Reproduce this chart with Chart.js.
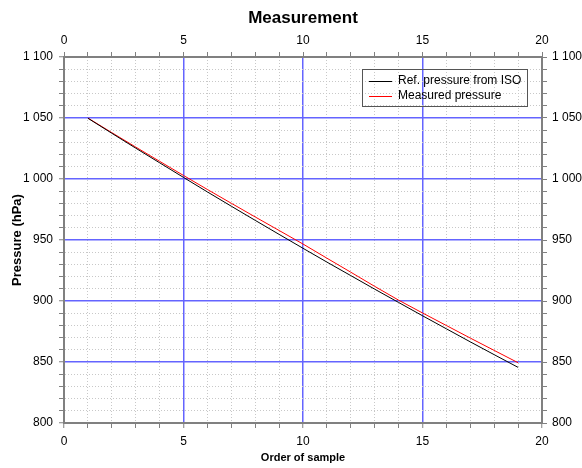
<!DOCTYPE html>
<html lang="en">
<head>
    <meta charset="UTF-8">
    <title>Measurement</title>
    <script src="https://cdn.jsdelivr.net/npm/chart.js"></script>
    <style>
        body { margin: 0; background: #fff; }
    </style>
</head>
<body>
    <canvas id="chart" width="582" height="468"></canvas>

    <script>
        // data
        const samples = [1, 2, 3, 4, 5, 6, 7, 8, 9, 10, 11, 12, 13, 14, 15, 16, 17, 18, 19];
        const refPressure = [1049.8, 1037.5, 1025.3, 1013.3, 1001.3, 989.4, 977.7, 966.1, 954.6, 943.2,
                             931.9, 920.8, 909.7, 898.8, 887.9, 877.2, 866.5, 856.0, 845.6];
        const measuredPressure = [1050.0, 1038.0, 1026.2, 1014.5, 1002.9, 991.4, 980.1, 968.9, 957.8, 946.7,
                                  935.1, 923.6, 912.0, 900.7, 890.2, 879.9, 869.6, 859.5, 849.4];
        const seriesLabels = ['Ref. pressure from ISO', 'Measured pressure'];
        const xMajor = [0, 5, 10, 15, 20];
        const xTickLabels = ['0', '5', '10', '15', '20'];
        const yMajor = [800, 850, 900, 950, 1000, 1050, 1100];
        const yTickLabels = ['800', '850', '900', '950', '1 000', '1 050', '1 100'];

        Chart.defaults.font.family = '"Liberation Sans", Arial, sans-serif';
        Chart.defaults.font.size = 12;
        Chart.defaults.color = '#000';

        const axisGray = '#808080';
        const majorBlue = 'rgb(100,100,255)';
        const minorGray = '#c8c8c8';

        function points(values) {
            return samples.map((s, i) => ({ x: s, y: values[i] }));
        }

        // grid helpers: blue on major ticks, dotted gray on minor ones
        function gridColor(major, min, max) {
            return ctx => {
                const v = ctx.tick ? ctx.tick.value : null;
                if (v === min || v === max) return 'rgba(0,0,0,0)';
                return major.includes(v) ? majorBlue : minorGray;
            };
        }
        function gridWidth(major) {
            return ctx => (ctx.tick && major.includes(ctx.tick.value)) ? 1.5 : 1;
        }
        function gridDash(major) {
            return ctx => (ctx.tick && !major.includes(ctx.tick.value)) ? [1, 2] : [];
        }
        function labelFor(major, labels) {
            return value => {
                const i = major.indexOf(value);
                return i >= 0 ? labels[i] : '';
            };
        }

        // simple boxed legend inside the plot, top right
        const boxLegend = {
            id: 'boxLegend',
            afterDraw(chart) {
                const ctx = chart.ctx;
                ctx.save();
                ctx.strokeStyle = '#555';
                ctx.lineWidth = 1;
                ctx.strokeRect(362.5, 69.5, 165, 37);
                ctx.font = '12px "Liberation Sans", Arial, sans-serif';
                ctx.textBaseline = 'middle';
                chart.data.datasets.forEach((ds, i) => {
                    const y = 81 + i * 15;
                    ctx.strokeStyle = ds.borderColor;
                    ctx.beginPath();
                    ctx.moveTo(369, y + 0.5);
                    ctx.lineTo(392, y + 0.5);
                    ctx.stroke();
                    ctx.fillStyle = '#000';
                    ctx.fillText(ds.label, 398, y);
                });
                ctx.restore();
            }
        };

        new Chart(document.getElementById('chart'), {
            type: 'line',
            data: {
                datasets: [{
                    label: seriesLabels[0],
                    data: points(refPressure),
                    borderColor: '#000000',
                    borderWidth: 1,
                    pointRadius: 0,
                    tension: 0
                }, {
                    label: seriesLabels[1],
                    data: points(measuredPressure),
                    borderColor: '#ff0000',
                    borderWidth: 1,
                    pointRadius: 0,
                    tension: 0
                }]
            },
            options: {
                responsive: false,
                animation: false,
                layout: { padding: 0 },
                plugins: {
                    legend: { display: false },
                    tooltip: { enabled: false },
                    title: {
                        display: true,
                        fullSize: false, // center over the plot area
                        text: 'Measurement',
                        color: '#000',
                        font: { size: 17, weight: 'bold' },
                        padding: { top: 8, bottom: 0.6 }
                    }
                },
                scales: {
                    x: {
                        type: 'linear',
                        position: 'bottom',
                        min: 0, max: 20,
                        ticks: { stepSize: 1, autoSkip: false, maxRotation: 0, padding: 6,
                                 callback: labelFor(xMajor, xTickLabels) },
                        grid: { color: gridColor(xMajor, 0, 20), lineWidth: gridWidth(xMajor),
                                tickColor: axisGray, tickWidth: 1, tickLength: 5 },
                        border: { color: axisGray, width: 2, dash: gridDash(xMajor) },
                        title: { display: true, text: 'Order of sample', font: { size: 11, weight: 'bold' },
                                 padding: { top: 0, bottom: 3 } },
                        afterFit: s => { s.height = 45; }
                    },
                    x2: {
                        type: 'linear',
                        position: 'top',
                        min: 0, max: 20,
                        ticks: { stepSize: 1, autoSkip: false, maxRotation: 0, padding: 4,
                                 callback: labelFor(xMajor, xTickLabels) },
                        grid: { drawOnChartArea: false, tickColor: axisGray, tickLength: 5 },
                        border: { color: axisGray, width: 2 },
                        afterFit: s => { s.height = 28; }
                    },
                    y: {
                        type: 'linear',
                        position: 'left',
                        min: 800, max: 1100,
                        ticks: { stepSize: 10, autoSkip: false, padding: 6,
                                 callback: labelFor(yMajor, yTickLabels) },
                        grid: { color: gridColor(yMajor, 800, 1100), lineWidth: gridWidth(yMajor),
                                tickColor: axisGray, tickWidth: 1, tickLength: 5 },
                        border: { color: axisGray, width: 2, dash: gridDash(yMajor) },
                        title: { display: true, text: 'Pressure (hPa)', font: { size: 13, weight: 'bold' },
                                 padding: { top: 10, bottom: 0 } },
                        afterFit: s => { s.width = 64; }
                    },
                    y2: {
                        type: 'linear',
                        position: 'right',
                        min: 800, max: 1100,
                        ticks: { stepSize: 10, autoSkip: false, padding: 5,
                                 callback: labelFor(yMajor, yTickLabels) },
                        grid: { drawOnChartArea: false, tickColor: axisGray, tickLength: 5 },
                        border: { color: axisGray, width: 2 },
                        afterFit: s => { s.width = 40; }
                    }
                }
            },
            plugins: [boxLegend]
        });
    </script>
</body>
</html>
